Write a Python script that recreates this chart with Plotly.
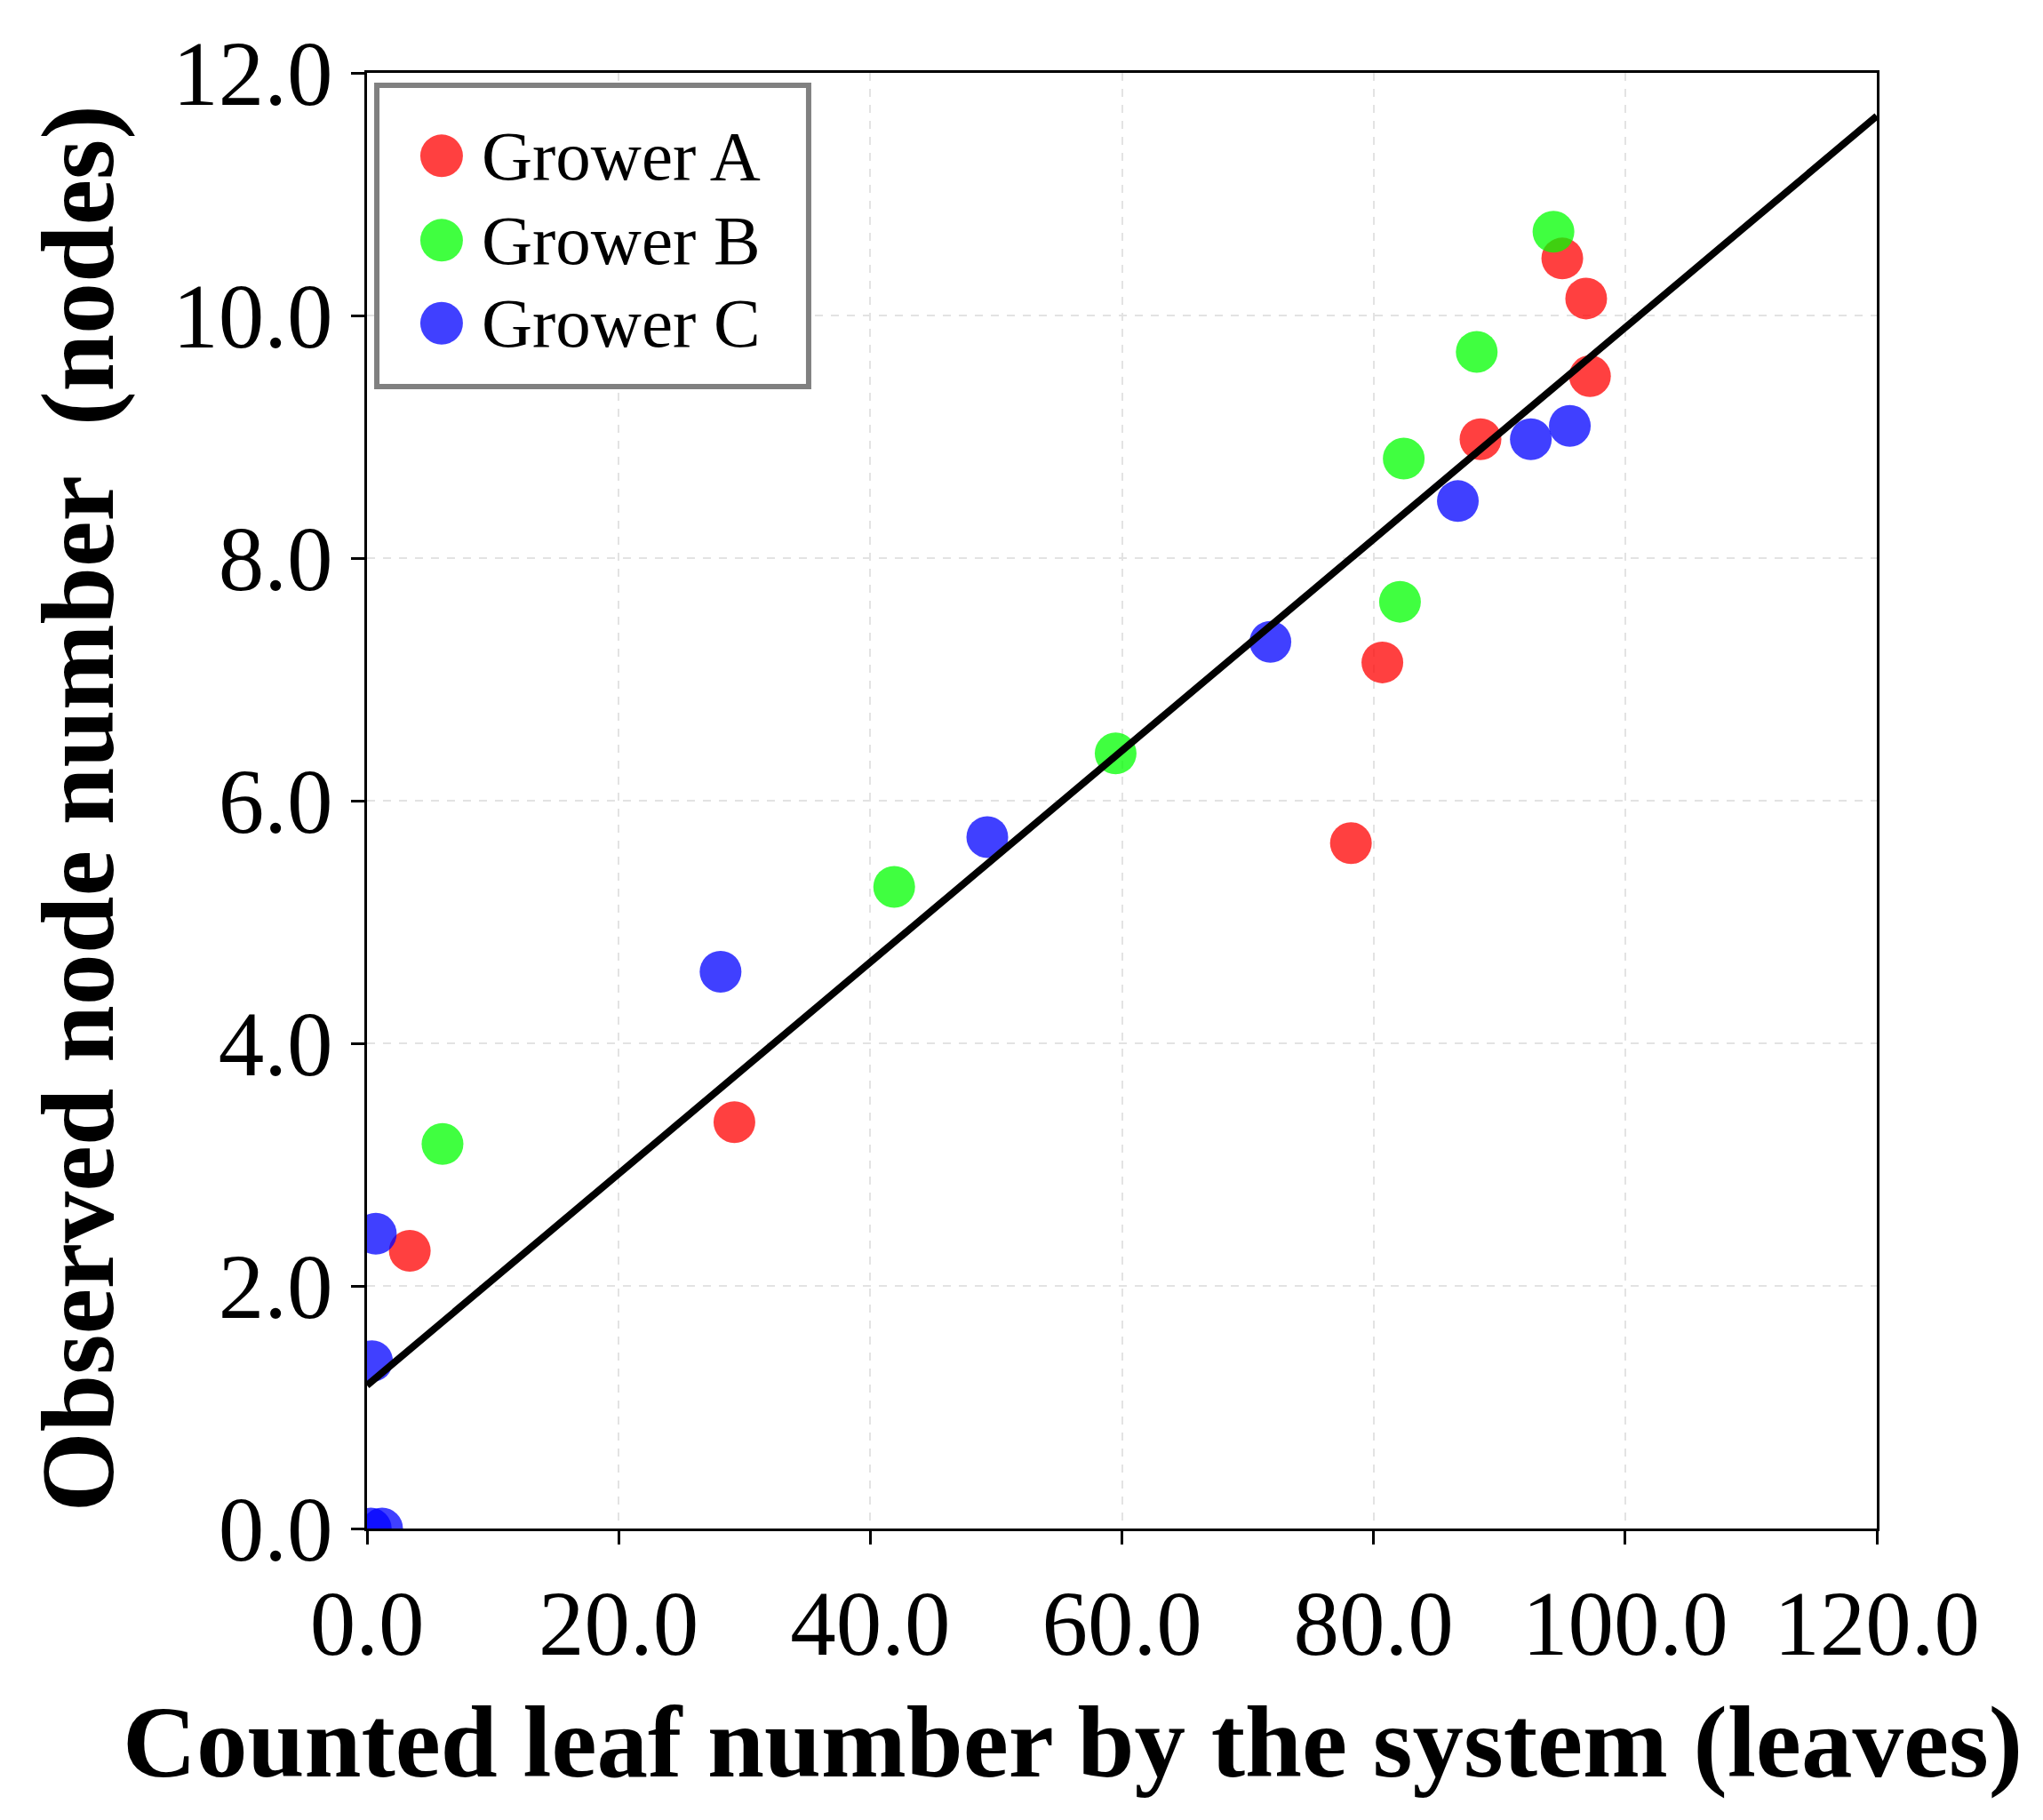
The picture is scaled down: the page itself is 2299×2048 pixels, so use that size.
import numpy as np
import plotly.graph_objects as go

# Data
a_x = [3.4, 29.2, 78.2, 80.7, 88.5, 95.0, 96.9, 97.2]
a_y = [2.29, 3.35, 5.65, 7.14, 8.98, 10.47, 10.14, 9.50]

b_x = [6.0, 41.9, 59.5, 82.1, 82.4, 88.2, 94.3]
b_y = [3.17, 5.29, 6.39, 7.64, 8.82, 9.70, 10.69]

c_x = [0.3, 1.2, 0.4, 0.7, 28.1, 49.3, 71.8, 86.7, 92.5, 95.6]
c_y = [0.0, 0.0, 1.38, 2.43, 4.59, 5.70, 7.31, 8.47, 8.98, 9.09]

fit_intercept = 1.18
fit_slope = 0.0872
fit_x = np.array([0.0, 120.0])

growers = ["Grower A", "Grower B", "Grower C"]
colors = ["rgba(255,0,0,0.75)", "rgba(0,255,0,0.75)", "rgba(0,0,255,0.75)"]

font = "Liberation Serif"

fig = go.Figure()

for name, xs, ys, col in zip(growers, [a_x, b_x, c_x], [a_y, b_y, c_y], colors):
    fig.add_trace(go.Scatter(x=xs, y=ys, mode="markers", name=name,
                             marker=dict(size=47, color=col, line=dict(width=0))))

fig.add_trace(go.Scatter(x=fit_x, y=fit_intercept + fit_slope * fit_x, mode="lines",
                         line=dict(color="black", width=8), showlegend=False))

# Hand-made legend (plotly caps legend marker size)
shapes = [dict(type="rect", xref="paper", yref="paper", x0=0.0065, x1=0.2925,
               y0=0.7845, y1=0.9915, line=dict(color="#808080", width=6),
               fillcolor="white", layer="above")]
annotations = []
leg_y = [0.943, 0.885, 0.828]
rx, ry = 24 / 1699, 24 / 1638
for name, col, yy in zip(growers, colors, leg_y):
    shapes.append(dict(type="circle", xref="paper", yref="paper",
                       x0=0.0494 - rx, x1=0.0494 + rx, y0=yy - ry, y1=yy + ry,
                       fillcolor=col, line=dict(width=0), layer="above"))
    annotations.append(dict(xref="paper", yref="paper", x=0.075, y=yy, text=name,
                            showarrow=False, xanchor="left", yanchor="middle",
                            font=dict(family=font, size=79, color="black")))

# Axis titles (placed like the reference, x title sits left of plot centre)
annotations.append(dict(xref="paper", yref="paper", x=0.4675, y=-0.147,
                        text="<b>Counted leaf number by the system (leaves)</b>",
                        showarrow=False, xanchor="center", yanchor="middle",
                        font=dict(family=font, size=115, color="black")))
annotations.append(dict(xref="paper", yref="paper", x=-0.191, y=0.4945,
                        text="<b>Observed node number  (nodes)</b>", textangle=-90,
                        showarrow=False, xanchor="center", yanchor="middle",
                        font=dict(family=font, size=116, color="black")))

axis_common = dict(showline=True, linecolor="black", linewidth=3, mirror=True,
                   ticks="outside", ticklen=15, tickwidth=3, tickcolor="black",
                   showgrid=True, gridcolor="#e3e3e3", griddash="dash", gridwidth=2,
                   zeroline=False, tickformat=".1f",
                   tickfont=dict(family=font, size=103, color="black"))

fig.update_layout(
    width=2299, height=2048,
    margin=dict(l=405, r=195, t=74, b=336),
    plot_bgcolor="white", paper_bgcolor="white",
    showlegend=False,
    shapes=shapes, annotations=annotations,
    xaxis=dict(range=[0, 120], dtick=20, **axis_common),
    yaxis=dict(range=[0, 12], dtick=2, **axis_common),
)

fig.write_html("out.html")
